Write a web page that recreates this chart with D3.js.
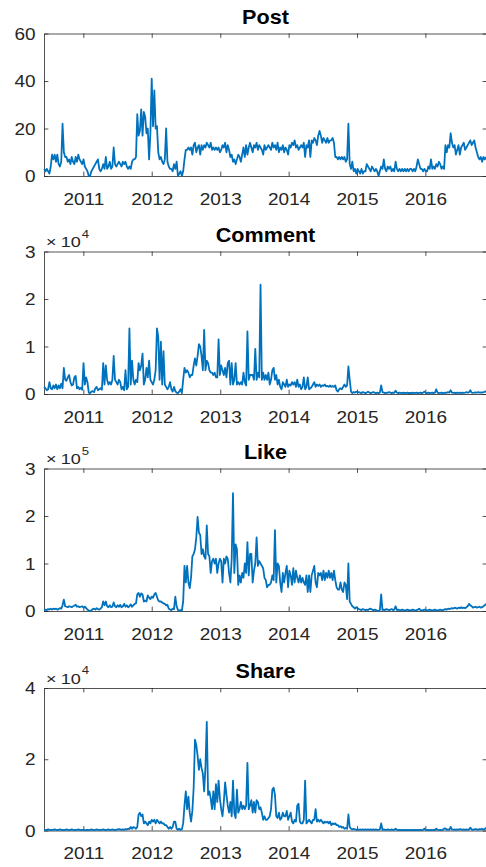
<!DOCTYPE html>
<html><head><meta charset="utf-8">
<script src="https://cdn.jsdelivr.net/npm/d3@7"></script>
<style>body{margin:0;background:#fff}svg{display:block}</style>
</head><body>
<script>
const startDate = "2010-06-06";
const titles = ["Post", "Comment", "Like", "Share"];
const xTickYears = [2011, 2012, 2013, 2014, 2015, 2016];
const yMax = [60, 30000, 300000, 40000];
const yTickValues = [[0, 20, 40, 60], [0, 10000, 20000, 30000], [0, 100000, 200000, 300000], [0, 20000, 40000]];
const yExponent = [0, 4, 5, 4];

const post = [3,2,3,2,1,4,9,7,9,6, 9,5,4,6,22,10,8,8,6,7, 5,8,6,5,8,6,9,7,6,5, 7,4,3,2,0,0,2,3,4,5,
 6,7,3,2,3,5,3,8,3,4, 6,3,4,12,5,4,5,6,5,4, 6,5,6,4,3,4,3,6,7,7, 8,26,17,19,28,17,27,25,18,20,
 7,18,41,21,36,20,21,10,7,8, 6,5,7,20,6,4,3,3,2,5, 3,6,0,1,2,0,2,7,11,11, 12,11,12,9,13,14,10,12,13,9,
 13,11,13,12,14,13,12,14,11,12, 11,12,11,12,10,11,13,12,14,10, 13,11,8,9,6,7,5,7,9,8, 6,9,12,8,13,9,12,14,12,10,
 13,12,14,11,13,12,11,9,13,11, 12,13,12,11,14,12,13,11,14,10, 12,11,13,10,12,11,9,13,12,14, 13,15,12,13,11,12,13,12,14,8,
 13,12,15,8,15,14,16,15,13,17, 19,17,14,16,15,14,16,14,15,15, 16,14,8,8,7,8,7,8,7,8, 6,7,22,5,3,6,2,3,1,3,
 2,1,3,1,2,2,5,4,3,2, 4,3,2,3,2,0,2,4,3,7, 3,2,4,3,4,2,3,2,6,3, 2,3,2,3,2,3,2,3,2,3,
 3,2,3,2,4,7,5,3,3,2, 3,2,2,4,3,7,3,4,3,5, 4,6,5,3,4,3,13,10,13,12, 18,14,12,13,9,11,13,9,12,13,
 14,11,12,13,14,15,13,14,15,12, 10,8,7,8,6,8,7,8];

const comment = [1500,1200,800,1000,2500,1200,1000,1800,1200,2000, 1000,1800,1200,2200,1200,5500,3000,2800,3500,4000,
 2500,1800,2000,3500,3800,1200,1500,1000,1300,900, 6500,2000,3500,2500,300,200,500,600,400,1200,
 1500,800,1000,1200,900,6500,2000,6000,3000,2000, 2500,2000,3000,8000,3000,2500,2000,3000,2500,1000,
 1500,800,5000,1000,1500,13800,2000,7000,3000,2000, 3000,2500,6500,5000,6000,8500,2000,3000,5500,3500,
 7000,3000,2500,2000,3000,5000,13800,12000,3000,11000, 2000,9000,2000,1500,1000,1500,2500,1000,500,1500,
 600,300,200,500,1000,200,3000,5500,4500,5000, 4500,3500,4000,4000,6000,7500,6000,8000,10500,10000,
 8000,5000,13500,5000,7000,6500,5000,4500,4500,4000, 4500,3500,3500,11500,4000,6000,5000,4000,5500,3500,
 6500,7000,2000,6500,2000,3000,6500,2000,2500,2000, 2500,2000,4500,2500,1800,13200,3000,4000,4000,4000,
 3000,9500,3000,4500,3500,23000,3000,4500,3000,4000, 3000,4500,2000,3000,5000,5500,3000,4000,2000,3000,
 1500,1000,2500,2000,1500,3000,1500,2000,1800,2500, 2000,2500,1500,3000,1500,2000,1000,1500,3500,1000,
 1500,3500,1000,1200,1500,2000,2500,1500,2000,1700, 2000,1500,1800,1700,2000,1600,1700,1500,1800,1500,
 1700,1500,1800,800,500,1000,1200,1000,1500,2000, 1500,1800,5800,3000,500,200,400,300,500,300,
 400,300,200,400,300,200,300,500,300,200, 300,400,300,200,300,200,300,1800,400,300,
 200,300,250,400,300,200,300,250,700,300, 200,300,250,200,300,200,250,300,200,250,
 200,300,200,250,300,200,250,300,200,300, 500,250,200,300,200,250,300,200,300,1000,
 300,200,250,300,200,250,300,250,400,300, 800,300,250,300,200,300,250,300,200,300,
 250,300,400,300,350,800,300,250,300,350, 300,400,300,350,300,400,450,600];

const like = [2000,3000,2000,4000,3000,5000,3000,5000,4000,5000, 3000,4000,6000,5000,12000,24000,10000,9000,8000,10000,
 9000,8000,10000,11000,13000,9000,10000,8000,9000,10000, 7000,9000,6000,3000,1000,500,1500,4000,5000,3000,
 6000,4000,3000,5000,8000,20000,12000,20000,10000,8000, 12000,8000,9000,18000,10000,8000,12000,9000,13000,8000,
 10000,15000,9000,12000,8000,10000,14000,9000,12000,15000, 16000,35000,38000,30000,37000,35000,20000,22000,20000,33000,
 28000,25000,30000,28000,35000,38000,30000,22000,20000,20000, 18000,16000,15000,12000,13000,5000,3000,2000,5000,4000,
 30000,10000,2000,1000,2000,1000,20000,95000,60000,95000, 60000,48000,70000,115000,120000,130000,155000,198000,165000,160000,
 120000,130000,115000,110000,180000,120000,115000,80000,105000,110000, 100000,110000,80000,100000,110000,105000,60000,110000,100000,115000,
 110000,80000,60000,110000,248000,80000,140000,130000,55000,75000, 60000,80000,70000,100000,80000,145000,75000,120000,120000,60000,
 85000,100000,155000,95000,105000,100000,95000,90000,70000,65000, 50000,55000,55000,60000,75000,65000,170000,60000,100000,95000,
 60000,40000,80000,60000,80000,95000,50000,85000,75000,55000, 90000,60000,85000,70000,60000,75000,60000,70000,60000,55000,
 75000,40000,75000,40000,75000,85000,95000,60000,50000,80000, 75000,80000,65000,85000,65000,80000,70000,85000,70000,80000,
 65000,85000,65000,50000,45000,45000,60000,45000,40000,60000, 55000,25000,100000,20000,15000,10000,8000,5000,8000,6000,
 4000,3000,2000,4000,3000,2000,3000,2000,4000,5000, 3000,2000,3000,2000,1000,500,2000,35000,2000,3000,
 2000,4000,3000,2000,3000,4000,2000,3000,10000,2000, 3000,1000,2000,3000,2000,1000,2000,3000,2000,1000,
 2000,3000,2000,1000,2000,3000,5000,2000,1000,2000, 3000,2000,1000,2000,3000,2000,1000,2000,3000,2000,
 1000,2000,3000,2000,2000,3000,4000,3000,5000,4000, 5000,6000,5000,7000,6000,5000,7000,6000,8000,6000,
 7000,6000,8000,10000,15000,12000,10000,7000,8000,9000, 7000,8000,9000,7000,8000,10000,12000,15000];

const share = [200,100,200,300,200,100,200,200,300,200, 100,200,300,200,200,100,200,300,200,100,
 200,300,200,100,200,200,300,200,100,200, 200,100,100,200,100,200,300,200,100,200,
 300,200,100,200,200,300,200,100,200,300, 200,200,300,200,100,200,300,400,300,200,
 300,200,400,300,500,400,1000,500,1000,800, 500,1000,4500,5000,4000,4500,2000,2500,2000,1500,
 2500,2000,3000,2500,3000,2000,3000,2500,2000,2500, 2000,2000,1500,1500,1000,500,1000,500,1000,2500,
 2500,500,200,500,200,300,2000,7000,11000,6000, 9500,5000,2500,5500,12000,25500,24000,21000,17000,20000,
 17500,16000,11000,18000,30500,10000,11000,9000,6000,11000, 6000,13000,8000,14000,9000,6000,4000,8000,13500,10000,
 7000,5000,8000,4000,14000,5000,3500,11500,5000,6000, 8000,6000,7000,6000,7000,19000,6000,7000,8500,5000,
 8000,5000,8500,8000,6000,6500,5000,3000,4000,3000, 3000,3500,4000,6000,11500,12000,10000,4000,3500,5000,
 3000,3500,5000,4000,4000,5500,3000,4000,5000,2500, 2000,3000,2500,7000,7500,2500,2000,2000,3000,14000,
 2000,2500,3000,2500,2000,3000,3000,6000,2500,3000, 2500,3000,2500,2000,2500,2200,2500,2000,2500,1500,
 2000,1800,2000,1500,1500,1000,1200,800,1000,500, 700,500,4500,1000,500,300,500,300,200,300,
 200,300,200,300,200,300,200,300,200,300, 200,300,200,300,200,200,300,2000,200,300,
 200,200,300,200,200,300,200,200,500,200, 100,200,100,200,100,200,100,200,100,200,
 100,200,100,200,100,200,100,200,100,200, 500,200,100,200,100,200,100,200,100,500,
 200,100,200,100,200,500,600,200,300,200, 1000,300,200,300,200,300,200,400,300,200,
 300,200,300,200,300,800,300,200,300,400, 300,200,400,300,500,300,400,800];

const series = [post, comment, like, share];

const W = 486, H = 867;
const left = 44, right = 487;
const tops = [33.5, 251.5, 468.5, 688];
const ph = 142.5;
const tick = 4.4;
const axisColor = "#262626";
const font = "'Liberation Sans', Arial, Helvetica, sans-serif";
const sxTick = 1.2;

const svg = d3.select("body").append("svg").attr("width", W).attr("height", H);
const parse = d3.utcParse("%Y-%m-%d");
const t0 = parse(startDate);
const x = d3.scaleUtc().domain([parse("2010-06-05"), parse("2016-11-25")]).range([left, right]);
const yearDates = xTickYears.map(yr => new Date(Date.UTC(yr, 0, 1)));

series.forEach((data, k) => {
  const top = tops[k], bottom = top + ph;
  const y = d3.scaleLinear().domain([0, yMax[k]]).range([bottom, top]);
  const dates = data.map((_, i) => d3.utcDay.offset(t0, 7 * i));
  const g = svg.append("g");
  const exp = Math.pow(10, yExponent[k]);

  const gb = g.append("g").attr("transform", `translate(0,${bottom})`)
    .call(d3.axisBottom(x).tickValues(yearDates).tickSizeInner(-tick).tickSizeOuter(0)
      .tickFormat(d3.utcFormat("%Y")));
  const gt = g.append("g").attr("transform", `translate(0,${top})`)
    .call(d3.axisTop(x).tickValues(yearDates).tickSizeInner(-tick).tickSizeOuter(0).tickFormat(""));
  const gl = g.append("g").attr("transform", `translate(${left},0)`)
    .call(d3.axisLeft(y).tickValues(yTickValues[k]).tickSizeInner(-tick).tickSizeOuter(0)
      .tickFormat(v => d3.format("d")(v / exp)));
  const gr = g.append("g").attr("transform", `translate(${right},0)`)
    .call(d3.axisRight(y).tickValues(yTickValues[k]).tickSizeInner(-tick).tickSizeOuter(0).tickFormat(""));

  [gb, gt, gl, gr].forEach(a => {
    a.attr("color", axisColor).attr("font-family", font);
    a.selectAll("path,line").attr("stroke-width", 0.8);
  });
  gb.selectAll("text").attr("y", null).attr("dy", null).attr("x", null)
    .attr("font-size", 15.8).attr("fill", axisColor)
    .attr("text-anchor", "middle")
    .attr("transform", `translate(0,28.5) scale(${sxTick},1)`);
  gl.selectAll("text").attr("x", null).attr("dy", null)
    .attr("font-size", 15.8).attr("fill", axisColor)
    .attr("text-anchor", "end")
    .attr("transform", `translate(-8.5,5.6) scale(${sxTick},1)`);

  const line = d3.line().x((d, i) => x(dates[i])).y(d => y(d));
  g.append("path").datum(data).attr("d", line)
    .attr("fill", "none").attr("stroke", "#0072BD").attr("stroke-width", 1.8)
    .attr("stroke-linejoin", "round");

  g.append("text").attr("transform", `translate(${(left + right) / 2},${top - 10}) scale(1.08,1)`)
    .attr("text-anchor", "middle").attr("font-family", font).attr("font-weight", "bold")
    .attr("font-size", 20).attr("fill", "#000").text(titles[k]);

  if (yExponent[k]) {
    const t = g.append("text").attr("transform", `translate(46,${top - 4.5}) scale(1.2,1)`)
      .attr("font-family", font).attr("font-size", 15).attr("fill", axisColor);
    t.append("tspan").text("\u00d7");
    t.append("tspan").attr("dx", 3.5).text("10");
    t.append("tspan").attr("font-size", 11).attr("dy", -9.5).attr("dx", 0.8).text(String(yExponent[k]));
  }
});
</script>
</body></html>
